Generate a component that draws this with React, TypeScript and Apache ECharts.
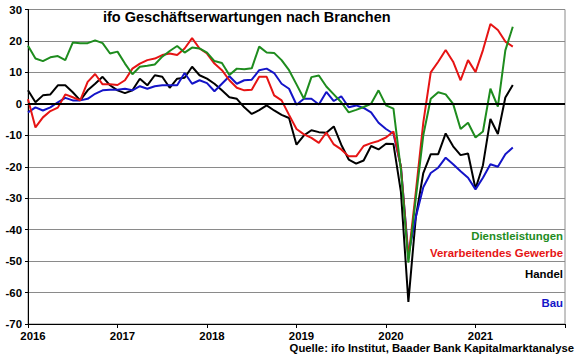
import React, { useEffect, useRef } from "react";
import * as echarts from "echarts";

// Monthly values, Jan 2016 .. Jun 2021 (index 0 = Jan 2016)
const yearLabels = ["2016", "2017", "2018", "2019", "2020", "2021"];

const dienstleistungen = [
  18.5, 14.4, 13.6, 14.8, 15.2, 13.9, 19.5, 19.3, 19.3, 20.2, 19.3, 16,
  16.6, 12.8, 9.4, 11.8, 12.1, 12.5, 15, 16.8, 18.4, 16.3, 17.9, 17.6,
  16.3, 13.6, 13, 9.2, 11.2, 11, 11.3, 18.2, 16.3, 16.2, 13.9, 10.7,
  6.2, 1.6, 8.5, 9, 5.5, 3, 0.5, -2.7, -1.9, -1, 0, 4.3,
  -0.5, -1.5, -21, -50.5, -30, -10, 1.6, 3.7, 3, 0, -8, -6,
  -10.7, -8.8, 4.8, -0.9, 17, 24.5,
];

const verarbeitendesGewerbe = [
  1.5, -7.5, -4.3, -2.3, -1.2, 3, 2.1, 1.1, 7, 9.5, 6.2, 6.2,
  6, 7.5, 11.2, 12.8, 13.9, 14.4, 15.5, 16, 15.5, 17.6, 20.9, 17.6,
  16, 12.8, 10.7, 7.5, 5.1, 4.3, 4.5, 8.6, 8.6, 2.7, 1.1, -3.5,
  -8, -9.7, -10.8, -12.4, -9.1, -12.9, -14.5, -16.7, -16.7, -13.4, -12.5, -11.8,
  -10.7, -8.8, -20, -49, -28, -6, 10, 13.4, 17.1, 13.4, 7.5, 13.9,
  10.1, 17.1, 25.4, 23.5, 19.8, 18.2,
];

const handel = [
  4.3, 0.5, 2.7, 3, 5.9, 5.9, 3.7, 1.1, 4.3, 6.4, 8.6, 5.9,
  4.3, 3.4, 4.3, 8, 5.9, 9.1, 8.6, 5.1, 8, 8.3, 11.8, 9.1,
  8, 6.4, 4.3, 2.1, 1.6, -1.1, -3.2, -2, -0.5, -2.1, -3.5, -4.5,
  -13, -10, -8.4, -9, -9.2, -7.2, -13, -17.7, -19, -18, -13.4, -14.5,
  -12.7, -12.8, -28, -63, -36, -22, -16, -16, -9.4, -13.5, -16.3, -15.8,
  -27, -19.5, -4.8, -9.6, 2, 6,
];

const bau = [
  -2.7, -1.1, -2.1, -1.1, 0.5, 1.9, 1.1, 1.1, 1.6, 3.2, 4.3, 4.5,
  4.5, 4.8, 4.3, 5.6, 4.8, 5.6, 5.9, 5.9, 5.9, 9.8, 6.4, 7.5,
  6.6, 4, 6.4, 8.8, 6.4, 7.5, 7.7, 10.7, 11.2, 9.8, 6.4, 4.8,
  -0.3, 1.6, 1.6, -0.2, 3.8, 0.9, 2.4, -1.1, -0.5, -1.3, -2.7, -6,
  -8, -9.5, -20, -48, -36, -26.5, -22, -20.3, -17.1, -19.2, -21.4, -23.5,
  -27.2, -23.5, -19.2, -20, -16, -13.9,
];

const FONT = "'Liberation Sans', Arial, Helvetica, sans-serif";
const GREEN = "#1e8c1e";
const RED = "#e61414";
const BLACK = "#000000";
const BLUE = "#1414c8";

const toPairs = (vals: number[]) => vals.map((v, i) => [i, v]);

export default function App() {
  const ref = useRef<HTMLDivElement>(null);

  useEffect(() => {
    if (!ref.current) return;
    const chart = echarts.init(ref.current, undefined, { renderer: "svg" });
    const lineSeries = (name: string, data: number[], color: string, extra: any = {}) => ({
      name,
      type: "line",
      data: toPairs(data),
      showSymbol: false,
      symbol: "none",
      lineStyle: { color, width: 2 },
      itemStyle: { color },
      silent: true,
      ...extra,
    });

    const legendText = (text: string, y: number, color: string) => ({
      type: "text",
      x: 563,
      y,
      style: {
        text,
        fill: color,
        font: `bold 11.4px ${FONT}`,
        align: "right",
        verticalAlign: "middle",
      },
    });

    chart.setOption({
      animation: false,
      backgroundColor: "#ffffff",
      textStyle: { fontFamily: FONT },
      grid: {
        left: 28,
        right: 15,
        top: 9.5,
        bottom: 35,
        show: true,
        borderColor: "#8a8a8a",
        borderWidth: 1,
        backgroundColor: "transparent",
      },
      xAxis: {
        type: "value",
        min: 0,
        max: 72,
        interval: 12,
        axisLine: { onZero: false, lineStyle: { color: "#000", width: 1 } },
        axisTick: { show: true, length: 4, lineStyle: { color: "#000" } },
        splitLine: { show: false },
        axisLabel: {
          margin: 6,
          color: "#000",
          fontWeight: "bold",
          fontSize: 11.4,
          fontFamily: FONT,
          padding: [0, 0, 0, 10],
          formatter: (v: number) => yearLabels[v / 12] ?? "",
        },
      },
      yAxis: {
        type: "value",
        min: -70,
        max: 30,
        interval: 10,
        axisLine: { show: true, lineStyle: { color: "#000", width: 1 } },
        axisTick: { show: true, length: 3, lineStyle: { color: "#000" } },
        splitLine: { show: true, lineStyle: { color: "#8a8a8a", width: 1 } },
        axisLabel: {
          margin: 6,
          color: "#000",
          fontWeight: "bold",
          fontSize: 11.4,
          fontFamily: FONT,
        },
      },
      series: [
        lineSeries("Handel", handel, BLACK, {
          markLine: {
            silent: true,
            symbol: "none",
            label: { show: false },
            lineStyle: { color: "#000", width: 2, type: "solid" },
            data: [{ yAxis: 0 }],
          },
        }),
        lineSeries("Bau", bau, BLUE),
        lineSeries("Verarbeitendes Gewerbe", verarbeitendesGewerbe, RED),
        lineSeries("Dienstleistungen", dienstleistungen, GREEN),
      ],
      graphic: [
        {
          type: "text",
          left: 103,
          top: 9,
          style: {
            text: "ifo Geschäftserwartungen nach Branchen",
            fill: "#000",
            font: `bold 14.5px ${FONT}`,
          },
        },
        legendText("Dienstleistungen", 236, GREEN),
        legendText("Verarbeitendes Gewerbe", 253, RED),
        legendText("Handel", 274, BLACK),
        legendText("Bau", 303, BLUE),
        {
          type: "text",
          x: 574,
          y: 348,
          style: {
            text: "Quelle: ifo Institut, Baader Bank Kapitalmarktanalyse",
            fill: "#000",
            font: `bold 11.3px ${FONT}`,
            align: "right",
            verticalAlign: "middle",
          },
        },
      ],
    });
    return () => chart.dispose();
  }, []);

  return (
    <div
      ref={ref}
      style={{ position: "fixed", left: 0, top: 0, width: 580, height: 359, background: "#fff" }}
    />
  );
}
